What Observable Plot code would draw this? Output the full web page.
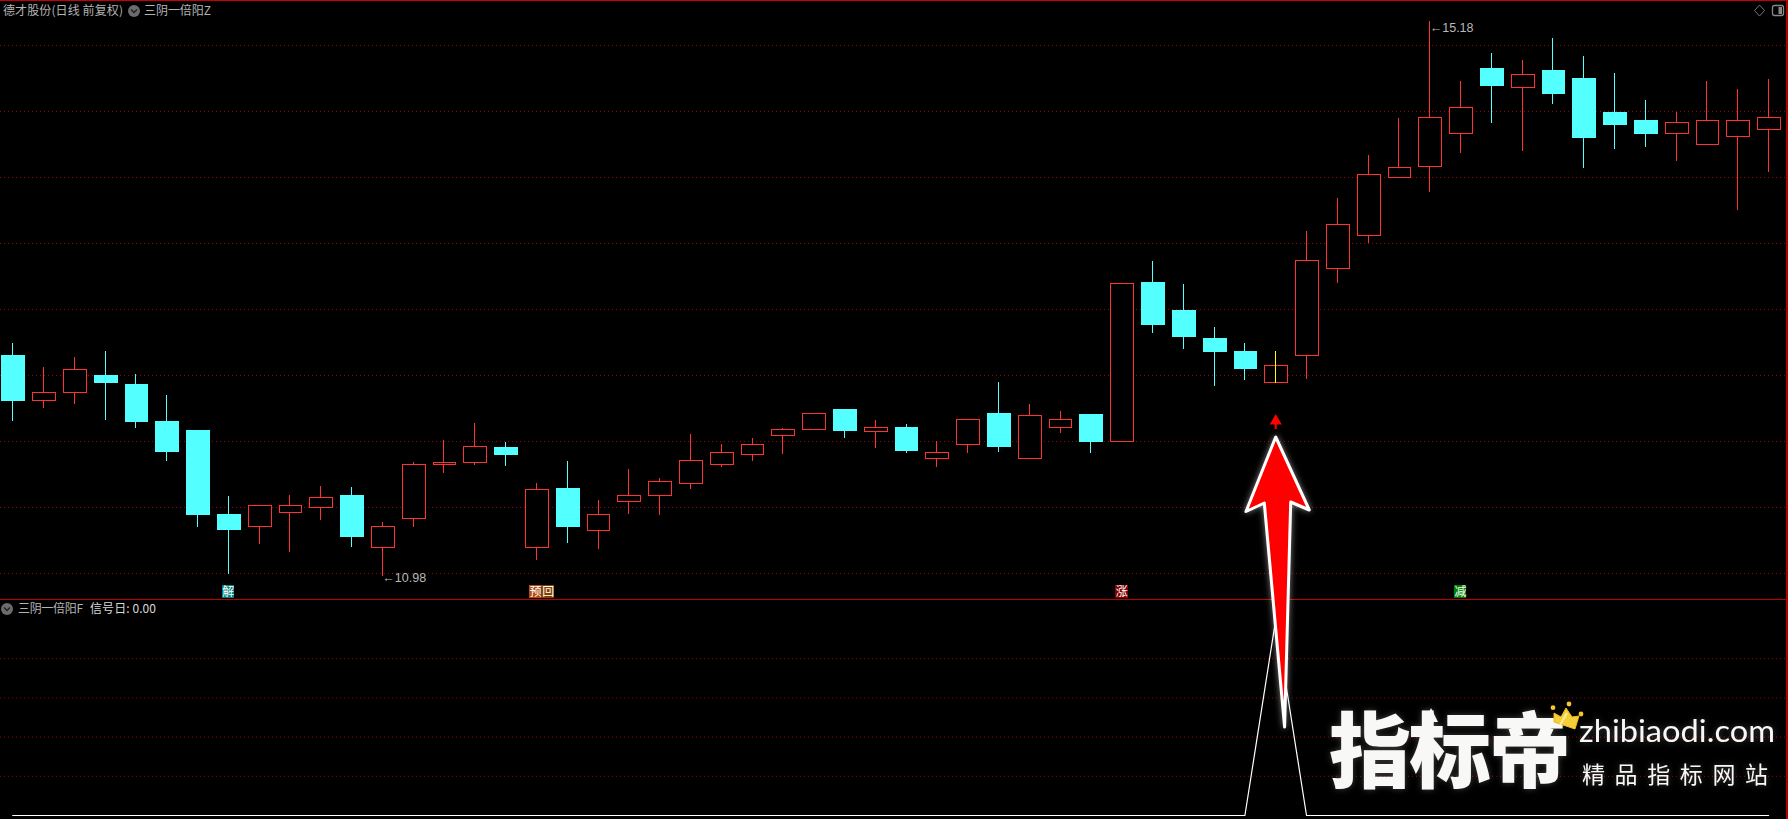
<!DOCTYPE html>
<html lang="zh">
<head>
<meta charset="utf-8">
<script src="https://cdn.jsdelivr.net/npm/d3@7"></script>
<script src="https://cdn.jsdelivr.net/npm/@observablehq/plot@0.6"></script>
<style>
  html,body{margin:0;padding:0;background:#000;overflow:hidden}
  #stage{position:relative;width:1788px;height:819px;background:#000}
  #stage>svg{position:absolute;left:0;display:block}
  #overlay{top:0;z-index:5;pointer-events:none}
</style>
</head>
<body>
<div id="stage"></div>
<script>
const opens = [12.65,12.31,12.37,12.50,12.43,12.15,12.08,11.44,11.35,11.46,11.50,11.59,11.19,11.41,11.82,11.84,11.95,11.19,11.64,11.32,
  11.54,11.59,11.68,11.82,11.90,12.04,12.09,12.24,12.07,12.10,11.87,11.97,12.21,11.87,12.10,12.20,12.00,13.20,12.99,
  12.78,12.68,12.44,12.65,13.31,13.56,14.00,14.08,14.33,14.82,14.68,14.81,14.75,14.49,14.43,14.33,14.25,14.31,14.36];
const closes = [12.31,12.37,12.54,12.44,12.15,11.92,11.44,11.33,11.51,11.51,11.57,11.28,11.35,11.82,11.84,11.96,11.90,11.63,11.35,11.44,
  11.59,11.69,11.85,11.91,11.97,12.09,12.21,12.08,12.10,11.93,11.91,12.16,11.96,12.19,12.16,12.00,13.19,12.88,12.79,
  12.68,12.55,12.57,13.37,13.64,14.02,14.07,14.45,14.53,14.69,14.78,14.63,14.30,14.40,14.33,14.41,14.43,14.43,14.45];
const highs = [12.74,12.56,12.64,12.68,12.51,12.35,12.08,11.58,11.51,11.59,11.66,11.65,11.39,11.84,12.01,12.14,11.99,11.68,11.85,11.55,
  11.79,11.72,12.05,11.98,12.02,12.10,12.21,12.24,12.16,12.13,12.00,12.16,12.45,12.28,12.23,12.20,13.19,13.36,13.19,
  12.86,12.74,12.68,13.59,13.84,14.17,14.45,15.18,14.73,14.94,14.89,15.05,14.92,14.79,14.58,14.49,14.73,14.67,14.74];
const lows = [12.15,12.25,12.28,12.16,12.10,11.85,11.35,10.99,11.22,11.16,11.40,11.20,10.98,11.35,11.76,11.82,11.81,11.10,11.23,11.18,
  11.45,11.44,11.64,11.80,11.85,11.90,12.09,12.02,11.95,11.91,11.80,11.91,11.92,11.86,12.06,11.91,12.00,12.82,12.70,
  12.42,12.46,12.44,12.47,13.20,13.50,14.00,13.89,14.18,14.41,14.20,14.55,14.07,14.21,14.23,14.12,14.25,13.75,14.04];
const signalDay = [0,0,0,0,0,0,0,0,0,0,0,0,0,0,0,0,0,0,0,0,0,0,0,0,0,0,0,0,0,0,0,0,0,0,0,0,0,0,0,0,0,1,
  0,0,0,0,0,0,0,0,0,0,0,0,0,0,0,0];
const priceGrid = [11,11.5,12,12.5,13,13.5,14,14.5,15];
const signalGrid = [0.2,0.4,0.6,0.8];
const lowMark = [{i:12,p:10.98}];
const highMark = [{i:46,p:15.18}];
const tagIndex = [7,17.18,36,47];
const tagText = ["解","预回","涨","减"];
const tagFill = [["#008080"],["#b04a10","#804000"],["#800000"],["#008000"]];

const RED="#ff3232", CYAN="#54ffff", GRID="#a00000", YELLOW="#ffff00";
const candles = opens.map((o,i)=>({i,o,c:closes[i],h:highs[i],l:lows[i],up:closes[i]>=o}));
const sigI = signalDay.indexOf(1);
const xScale = {domain:[0,57],range:[12.2,1768.1],axis:null};
const tagCells = tagIndex.flatMap((idx,t)=>[...tagText[t]].map((ch,k)=>({
  x:idx+(k-(tagText[t].length-1)/2)*0.41, ch, fill:tagFill[t][k]})));
const extremeLabel = {x:"i",y:"p",text:d=>"←"+d.p.toFixed(2),textAnchor:"start",fill:"#b8b8b8",
  fontFamily:"Liberation Sans",fontSize:12.5};

const pricePane = Plot.plot({
  width:1788,height:600,margin:0,
  style:"background:transparent;",
  x:xScale,
  y:{domain:[11,15],range:[573,45],axis:null},
  marks:[
    Plot.ruleY(priceGrid,{stroke:GRID,strokeDasharray:"1 3",strokeWidth:1}),
    Plot.ruleX(candles.filter(d=>d.i!==sigI),{x:"i",y1:"l",y2:"h",stroke:d=>d.up?RED:CYAN,strokeWidth:1,shapeRendering:"crispEdges"}),
    Plot.rect(candles,{x1:d=>d.i-0.37,x2:d=>d.i+0.37,y1:d=>Math.min(d.o,d.c),y2:d=>Math.max(d.o,d.c),dx:1,
      fill:d=>d.up?"#000":CYAN,stroke:d=>d.up?RED:CYAN,strokeWidth:1,shapeRendering:"crispEdges"}),
    Plot.ruleX(candles.filter(d=>d.i===sigI),{x:"i",y1:"l",y2:"h",stroke:YELLOW,strokeWidth:1,shapeRendering:"crispEdges"}),
    Plot.ruleX([sigI],{x:d=>d,y1:12.09,y2:12.14,stroke:"#ff0000",strokeWidth:2}),
    Plot.dot([sigI],{x:d=>d,y:12.155,symbol:"triangle",r:4.5,fill:"#ff0000",stroke:"none"}),
    Plot.text(lowMark,{...extremeLabel,dy:2}),
    Plot.text(highMark,{...extremeLabel,dy:6}),
    Plot.rect(tagCells,{x1:d=>d.x-0.205,x2:d=>d.x+0.205,y1:10.81,y2:10.912,fill:d=>d.fill,shapeRendering:"crispEdges"}),
    Plot.text(tagCells,{x:"x",y:10.86,text:"ch",fill:"#fff",fontFamily:"Noto Sans CJK SC",fontSize:12})
  ]
});
pricePane.style.top="0px";

const signalPane = Plot.plot({
  width:1788,height:219,margin:0,
  style:"background:transparent;",
  x:xScale,
  y:{domain:[0,1],range:[215,19],axis:null},
  marks:[
    Plot.ruleY(signalGrid,{stroke:GRID,strokeDasharray:"1 3",strokeWidth:1}),
    Plot.line(signalDay.map((v,i)=>({i,v})),{x:"i",y:"v",stroke:"#fff",strokeWidth:1.2})
  ]
});
signalPane.style.top="600px";

const stage=document.getElementById("stage");
stage.appendChild(pricePane);
stage.appendChild(signalPane);

// window chrome, header text and the watermark that sits over the chart
const NS="http://www.w3.org/2000/svg";
const overlay=document.createElementNS(NS,"svg");
overlay.setAttribute("id","overlay");
overlay.setAttribute("width",1788);overlay.setAttribute("height",819);
const chev=(cx,cy)=>`<circle cx="${cx}" cy="${cy}" r="6" fill="#6c6c6c"/><path d="M${cx-3} ${cy-1.5}L${cx} ${cy+1.5}L${cx+3} ${cy-1.5}" fill="none" stroke="#222" stroke-width="1.5"/>`;
const F=`font-family="Noto Sans CJK SC" font-size="12"`;
overlay.innerHTML=`
<rect x="0" y="0" width="1788" height="1" fill="#c80000"/>
<rect x="0" y="599" width="1788" height="1" fill="#c00000"/>
<rect x="1786" y="0" width="2" height="819" fill="#b00000"/>
<text x="3" y="15" ${F} fill="#b4b4b4" textLength="120">德才股份(日线 前复权)</text>
${chev(134,11)}
<text x="144" y="15" ${F} fill="#b4b4b4" textLength="67">三阴一倍阳Z</text>
${chev(7,609)}
<text x="18" y="613" ${F} fill="#b4b4b4" textLength="65">三阴一倍阳F</text>
<text x="90" y="613" ${F} fill="#d8d8d8" textLength="66">信号日: 0.00</text>
<path d="M1759.5 5L1764.5 10.5L1759.5 16L1754.5 10.5Z" fill="none" stroke="#777"/>
<rect x="1772.5" y="5.5" width="11" height="10" rx="2" fill="none" stroke="#888" stroke-width="1.3"/>
<rect x="1778.5" y="7" width="3.5" height="7" fill="#888"/>
<polygon points="1275.7,437 1246,511.5 1264.3,503 1284.6,727 1290.7,502 1309.3,510"
  fill="#ff0000" stroke="#fff" stroke-width="3" stroke-linejoin="round" style="filter:drop-shadow(0 0 3px rgba(255,255,255,.5))"/>
<g style="filter:drop-shadow(0 0 3px rgba(255,255,255,.25))" fill="#f8f9f6">
  <text x="1329" y="781" font-family="Noto Sans CJK SC" font-weight="900" font-size="82" textLength="242">指标帝</text>
  <path d="M1431 708L1424 722L1438 722Z"/>
  <text x="1579" y="742" font-family="Lato" font-size="30" textLength="196" lengthAdjust="spacingAndGlyphs">zhibiaodi.com</text>
  <text x="1582" y="783" font-family="Noto Sans CJK SC" font-size="23" letter-spacing="9.6">精品指标网站</text>
</g>
<polygon points="1554,722 1554,713 1561,717 1566,708 1572,717 1579,716 1575,729" fill="#f5cf3a" stroke="#f0b820" stroke-width="1" stroke-linejoin="round"/>
<path d="M1560 725L1567 713" stroke="#ffeb9a" stroke-width="2"/>
<circle cx="1553" cy="707.7" r="2.4" fill="#f5c531"/><circle cx="1569" cy="704" r="2.4" fill="#f5c531"/><circle cx="1581" cy="714" r="2.4" fill="#f5c531"/>`;
stage.appendChild(overlay);
</script>
</body>
</html>
